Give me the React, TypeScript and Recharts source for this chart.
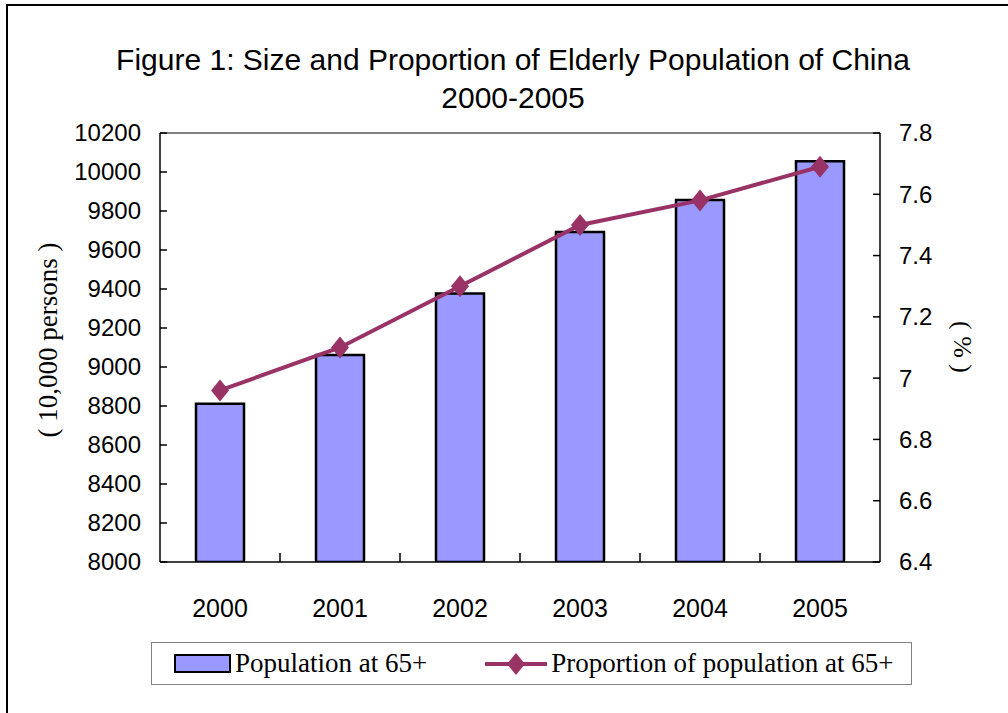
import React from "react";
import {
  ComposedChart,
  Bar,
  Line,
  XAxis,
  YAxis,
  ReferenceLine,
} from "recharts";

const years = ["2000", "2001", "2002", "2003", "2004", "2005"];
// population aged 65+, in 10,000 persons
const population = [8811, 9062, 9377, 9692, 9857, 10055];
// share of total population aged 65+, %
const proportion = [6.96, 7.1, 7.3, 7.5, 7.58, 7.69];

const leftTicks = [8000, 8200, 8400, 8600, 8800, 9000, 9200, 9400, 9600, 9800, 10000, 10200];
const rightTicks = [6.4, 6.6, 6.8, 7.0, 7.2, 7.4, 7.6, 7.8];

const data = years.map((year, i) => ({
  year,
  population: population[i],
  proportion: proportion[i],
}));

const BAR_COLOR = "#9999FF";
const LINE_COLOR = "#993366";
const SANS = "Arial, 'Liberation Sans', sans-serif";
const SERIF = "'Times New Roman', 'Liberation Serif', serif";
const TICK_FONT = 24;
const TICK_MARGIN = 19;
const TICK_LEN = 7;

function LeftTick(props: any) {
  const { x, y, payload } = props;
  const axisX = x + TICK_MARGIN;
  return (
    <g>
      <line x1={axisX} x2={axisX + TICK_LEN} y1={y} y2={y} stroke="#000" strokeWidth={1.5} />
      <text x={x} y={y} dy="0.35em" textAnchor="end" fontSize={TICK_FONT} fontFamily={SANS} fill="#000">
        {payload.value}
      </text>
    </g>
  );
}

function RightTick(props: any) {
  const { x, y, payload } = props;
  const axisX = x - TICK_MARGIN;
  return (
    <g>
      <line x1={axisX} x2={axisX - TICK_LEN} y1={y} y2={y} stroke="#000" strokeWidth={1.5} />
      <text x={x} y={y} dy="0.35em" textAnchor="start" fontSize={TICK_FONT} fontFamily={SANS} fill="#000">
        {String(Number(Number(payload.value).toFixed(1)))}
      </text>
    </g>
  );
}

function YearTick(props: any) {
  const { x, y, payload, index } = props;
  const half = payload.offset || 60;
  const axisY = y - 46;
  return (
    <g>
      {index < years.length - 1 && (
        <line
          x1={x + half}
          x2={x + half}
          y1={axisY}
          y2={axisY - 9}
          stroke="#000"
          strokeWidth={1.5}
        />
      )}
      <text x={x} y={y} dy="0.35em" textAnchor="middle" fontSize={25} fontFamily={SANS} fill="#000">
        {payload.value}
      </text>
    </g>
  );
}

function Diamond(props: any) {
  const { cx, cy } = props;
  if (cx == null || cy == null) return null;
  return (
    <path
      d={`M${cx},${cy - 11} L${cx + 9},${cy} L${cx},${cy + 11} L${cx - 9},${cy} Z`}
      fill={LINE_COLOR}
    />
  );
}

export default function App() {
  return (
    <div
      style={{
        position: "absolute",
        left: 0,
        top: 0,
        width: 1008,
        height: 713,
        overflow: "hidden",
        background: "#fff",
      }}
    >
      <div
        style={{
          position: "absolute",
          left: 6,
          top: 4,
          width: 1020,
          height: 730,
          border: "2px solid #000",
        }}
      />
      <div
        style={{
          position: "absolute",
          left: 0,
          top: 41,
          width: 1026,
          textAlign: "center",
          fontFamily: SANS,
          fontSize: 30,
          lineHeight: "38px",
          color: "#000",
        }}
      >
        Figure 1: Size and Proportion of Elderly Population of China
        <br />
        2000-2005
      </div>

      <div style={{ position: "absolute", left: 0, top: 0 }}>
        <ComposedChart
          width={1008}
          height={713}
          data={data}
          margin={{ top: 133, right: 48, bottom: 91, left: 80 }}
        >
          <XAxis
            dataKey="year"
            height={60}
            axisLine={{ stroke: "#000", strokeWidth: 1.5 }}
            tickLine={false}
            tickSize={0}
            tickMargin={46}
            tick={<YearTick />}
            interval={0}
          />
          <YAxis
            yAxisId="left"
            width={80}
            domain={[8000, 10200]}
            ticks={leftTicks}
            allowDataOverflow
            axisLine={{ stroke: "#000", strokeWidth: 1.5 }}
            tickLine={false}
            tickSize={0}
            tickMargin={TICK_MARGIN}
            tick={<LeftTick />}
            interval={0}
          />
          <YAxis
            yAxisId="right"
            orientation="right"
            width={80}
            domain={[6.4, 7.8]}
            ticks={rightTicks}
            allowDataOverflow
            axisLine={{ stroke: "#000", strokeWidth: 1.5 }}
            tickLine={false}
            tickSize={0}
            tickMargin={TICK_MARGIN}
            tick={<RightTick />}
            interval={0}
          />
          <ReferenceLine yAxisId="left" y={10200} stroke="#808080" strokeWidth={2} />
          <Bar
            yAxisId="left"
            dataKey="population"
            fill={BAR_COLOR}
            stroke="#000"
            strokeWidth={2.5}
            barSize={48}
            isAnimationActive={false}
          />
          <Line
            yAxisId="right"
            dataKey="proportion"
            stroke={LINE_COLOR}
            strokeWidth={4}
            dot={<Diamond />}
            activeDot={false}
            isAnimationActive={false}
          />
        </ComposedChart>
      </div>

      <div
        style={{
          position: "absolute",
          left: 48,
          top: 340,
          transform: "translate(-50%, -50%) rotate(-90deg)",
          whiteSpace: "nowrap",
          fontFamily: SERIF,
          fontSize: 27,
          color: "#000",
        }}
      >
        ( 10,000 persons )
      </div>
      <div
        style={{
          position: "absolute",
          left: 962,
          top: 347,
          transform: "translate(-50%, -50%) rotate(90deg)",
          whiteSpace: "nowrap",
          fontFamily: SERIF,
          fontSize: 26,
          color: "#000",
        }}
      >
        ( % )
      </div>

      <div
        style={{
          position: "absolute",
          left: 151,
          top: 642,
          width: 759,
          height: 41,
          border: "1.5px solid #808080",
          display: "flex",
          alignItems: "center",
          fontFamily: SERIF,
          fontSize: 27,
          color: "#000",
        }}
      >
        <div
          style={{
            marginLeft: 22,
            width: 53,
            height: 15,
            background: BAR_COLOR,
            border: "2px solid #000",
          }}
        />
        <span style={{ marginLeft: 4 }}>Population at 65+</span>
        <svg width={62} height={24} style={{ marginLeft: 58 }}>
          <line x1={0} x2={62} y1={12} y2={12} stroke={LINE_COLOR} strokeWidth={4} />
          <path d="M31,1 L40,12 L31,23 L22,12 Z" fill={LINE_COLOR} />
        </svg>
        <span style={{ marginLeft: 4 }}>Proportion of population at 65+</span>
      </div>
    </div>
  );
}
